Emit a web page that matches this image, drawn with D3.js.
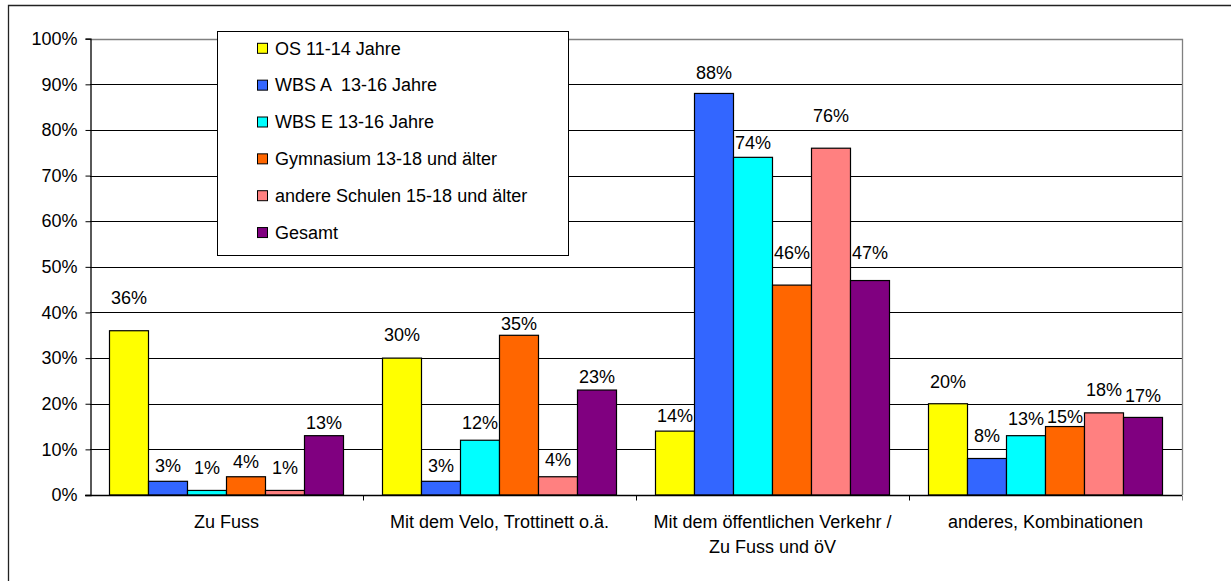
<!DOCTYPE html>
<html>
<head>
<meta charset="utf-8">
<script src="https://cdn.jsdelivr.net/npm/d3@7"></script>
<style>
  body { margin: 0; background: #fff; }
  svg { display: block; font-family: "Liberation Sans", Arial, sans-serif; }
</style>
</head>
<body>
<div id="chart"></div>
<script>
// categories (second line of a label after "|")
const categories = ["Zu Fuss", "Mit dem Velo, Trottinett o.ä.", "Mit dem öffentlichen Verkehr /|Zu Fuss und öV", "anderes, Kombinationen"];
const seriesNames = ["OS 11-14 Jahre", "WBS A  13-16 Jahre", "WBS E 13-16 Jahre", "Gymnasium 13-18 und älter", "andere Schulen 15-18 und älter", "Gesamt"];
const seriesColors = ["#ffff00", "#3366ff", "#00ffff", "#ff6600", "#ff8080", "#800080"];

// values per series, one per category
const osValues = [0.36, 0.30, 0.14, 0.20];
const wbsAValues = [0.03, 0.03, 0.88, 0.08];
const wbsEValues = [0.01, 0.12, 0.74, 0.13];
const gymValues = [0.04, 0.35, 0.46, 0.15];
const andereValues = [0.01, 0.04, 0.76, 0.18];
const gesamtValues = [0.13, 0.23, 0.47, 0.17];
const allValues = [osValues, wbsAValues, wbsEValues, gymValues, andereValues, gesamtValues];

const yTicks = [0, 0.1, 0.2, 0.3, 0.4, 0.5, 0.6, 0.7, 0.8, 0.9, 1.0];

// how far each data label sits above its bar (labels were hand placed in the original)
const labelLift = [
  [33, 23, 15, 22],
  [16, 16, 21, 23],
  [23, 18, 15, 17],
  [15, 12, 32, 10],
  [23, 17, 33, 23],
  [13, 13, 28, 22]
];

const width = 1231, height = 581;
const plot = {left: 90, right: 1182, top: 38.7, bottom: 495};

const svg = d3.select("#chart").append("svg")
  .attr("width", width)
  .attr("height", height);

// outer frame (only top and left edges visible)
svg.append("path")
  .attr("d", `M8.5,${height} V5.5 H${width}`)
  .attr("fill", "none")
  .attr("stroke", "#222")
  .attr("stroke-width", 1.3);

const x0 = d3.scaleBand().domain(categories).range([plot.left, plot.right]);
const bw = x0.bandwidth();
const x1 = d3.scaleBand().domain(d3.range(seriesNames.length)).range([bw / 14, bw - bw / 14]);
const y = d3.scaleLinear().domain([0, 1]).range([plot.bottom, plot.top]);

// gridlines
svg.append("g").selectAll("line")
  .data(yTicks.filter(t => t > 0 && t < 1))
  .enter().append("line")
  .attr("x1", plot.left).attr("x2", plot.right)
  .attr("y1", d => Math.round(y(d)) + 0.5).attr("y2", d => Math.round(y(d)) + 0.5)
  .attr("stroke", "#000")
  .attr("stroke-width", 1);

// plot area border (top + right)
svg.append("path")
  .attr("d", `M${plot.left},${Math.round(plot.top) + 0.5} H${Math.round(plot.right) + 0.5} V${plot.bottom}`)
  .attr("fill", "none")
  .attr("stroke", "#808080")
  .attr("stroke-width", 1.3);

// bars
const groups = svg.append("g").selectAll("g")
  .data(categories)
  .enter().append("g")
  .attr("transform", d => `translate(${x0(d)},0)`);

groups.each(function(cat, ci) {
  const g = d3.select(this);
  seriesNames.forEach((s, si) => {
    const v = allValues[si][ci];
    g.append("rect")
      .attr("x", x1(si))
      .attr("y", y(v))
      .attr("width", x1.bandwidth())
      .attr("height", plot.bottom - y(v))
      .attr("fill", seriesColors[si])
      .attr("stroke", "#000")
      .attr("stroke-width", 1.2);
    g.append("text")
      .attr("x", x1(si) + x1.bandwidth() / 2)
      .attr("y", y(v) - labelLift[si][ci])
      .attr("dy", "0.35em")
      .attr("text-anchor", "middle")
      .style("font-size", "18px")
      .style("fill", "#000")
      .text(d3.format(".0%")(v));
  });
});

// y axis
const yAxis = svg.append("g")
  .attr("transform", `translate(${plot.left + 0.5},0)`)
  .call(d3.axisLeft(y).tickValues(yTicks).tickFormat(d3.format(".0%")).tickSize(5).tickPadding(8));
yAxis.select(".domain").attr("stroke", "#000").attr("stroke-width", 1.3);
yAxis.selectAll(".tick line").attr("stroke", "#000");
yAxis.selectAll(".tick text")
  .style("font-size", "18px")
  .style("font-family", "'Liberation Sans', Arial, sans-serif")
  .attr("fill", "#000");

// x axis
const xAxis = svg.append("g")
  .attr("transform", `translate(0,${plot.bottom + 0.5})`);
xAxis.append("line")
  .attr("x1", plot.left - 5).attr("x2", plot.right)
  .attr("stroke", "#000").attr("stroke-width", 1.3);
xAxis.selectAll(".xtick")
  .data(categories.slice(1).concat(["end"]))
  .enter().append("line")
  .attr("x1", (d, i) => Math.round(plot.left + bw * (i + 1)) + 0.5)
  .attr("x2", (d, i) => Math.round(plot.left + bw * (i + 1)) + 0.5)
  .attr("y1", 0).attr("y2", 5)
  .attr("stroke", (d, i) => i === categories.length - 1 ? "#808080" : "#000");

const xLabels = svg.append("g").selectAll("text")
  .data(categories)
  .enter().append("text")
  .attr("x", d => x0(d) + bw / 2)
  .attr("y", 528)
  .attr("text-anchor", "middle")
  .style("font-size", "18px")
  .style("fill", "#000");
xLabels.each(function(d) {
  const lines = d.split("|");
  lines.forEach((ln, i) => {
    d3.select(this).append("tspan")
      .attr("x", x0(d) + bw / 2)
      .attr("dy", i === 0 ? 0 : 25)
      .text(ln);
  });
});

// legend
const legend = svg.append("g");
legend.append("rect")
  .attr("x", 217.5).attr("y", 31.5)
  .attr("width", 351).attr("height", 224)
  .attr("fill", "#fff")
  .attr("stroke", "#000")
  .attr("stroke-width", 1);
const rows = legend.selectAll(".row")
  .data(seriesNames)
  .enter().append("g")
  .attr("transform", (d, i) => `translate(0,${48.3 + i * 36.85})`);
rows.append("rect")
  .attr("x", 257.5).attr("y", -5)
  .attr("width", 10).attr("height", 10)
  .attr("fill", (d, i) => seriesColors[i])
  .attr("stroke", "#000")
  .attr("stroke-width", 1);
rows.append("text")
  .attr("x", 275)
  .attr("dy", "0.35em")
  .style("font-size", "18px")
  .style("fill", "#000")
  .style("white-space", "pre")
  .text(d => d);
</script>
</body>
</html>
